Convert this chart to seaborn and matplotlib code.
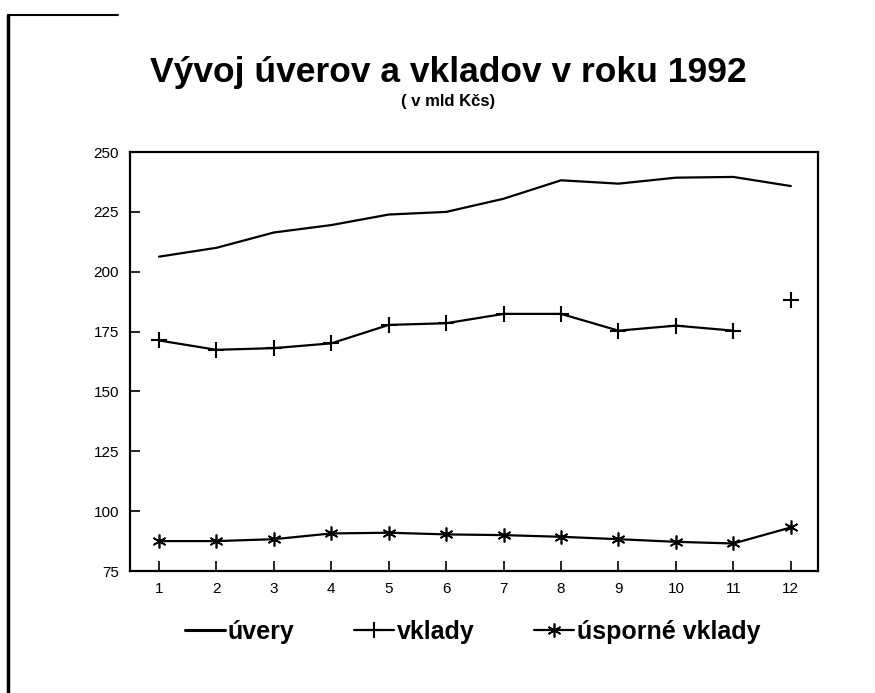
import matplotlib
matplotlib.use("Agg")
import matplotlib.pyplot as plt
import seaborn as sns
import pandas as pd
from matplotlib.lines import Line2D

months = [1, 2, 3, 4, 5, 6, 7, 8, 9, 10, 11, 12]
tick_labels = ["1", "2", "3", "4", "5", "6", "7", "8", "9", "10", "11", "12"]
uvery = [206.3, 210.0, 216.4, 219.5, 223.9, 225.0, 230.5, 238.2, 236.8, 239.3, 239.6, 235.8]
vklady = [171.3, 167.4, 168.1, 170.1, 177.8, 178.5, 182.4, 182.4, 175.4, 177.5, 175.4, 188.2]
usporne = [87.5, 87.5, 88.3, 90.7, 91.0, 90.3, 90.0, 89.3, 88.3, 87.2, 86.5, 93.2]
y_ticks = [75, 100, 125, 150, 175, 200, 225, 250]

sns.set_theme(style="white")
plt.rcParams['font.family'] = ['Liberation Sans', 'DejaVu Sans']
plt.rcParams['text.color'] = 'black'

fig = plt.figure(figsize=(8.75, 6.93), dpi=100)
ax = fig.add_axes([0.1486, 0.176, 0.786, 0.6046])

df = pd.DataFrame({"m": months, "uvery": uvery, "vklady": vklady, "usporne": usporne})
star = (6, 2, 0)

sns.lineplot(data=df, x="m", y="uvery", ax=ax, color="black", lw=1.6)
sns.lineplot(data=df.iloc[:11], x="m", y="vklady", ax=ax, color="black", lw=1.6,
             marker="+", markersize=12, markeredgewidth=1.5, markeredgecolor="black")
sns.scatterplot(data=df.iloc[11:], x="m", y="vklady", ax=ax, color="black",
                marker="+", s=130, linewidth=1.5)
sns.lineplot(data=df, x="m", y="usporne", ax=ax, color="black", lw=1.6,
             marker=star, markersize=10, markeredgewidth=1.2, markeredgecolor="black")

ax.set_xlim(0.495, 12.47)
ax.set_ylim(75, 250)
ax.set_xticks(months)
ax.set_xticklabels(tick_labels, fontsize=11)
ax.set_yticks(y_ticks)
ax.set_yticklabels([str(v) for v in y_ticks], fontsize=11)
ax.set_xlabel("")
ax.set_ylabel("")
ax.tick_params(direction="in", length=7, width=1.2, color="black", labelcolor="black",
               bottom=True, left=True, pad=8)
for s in ax.spines.values():
    s.set_color("black")
    s.set_linewidth(1.6)

fig.text(0.512, 0.895, "Vývoj úverov a vkladov v roku 1992", ha="center", va="center",
         fontsize=25.5, fontweight="bold", color="black")
fig.text(0.512, 0.853, "( v mld Kčs)", ha="center", va="center",
         fontsize=12, fontweight="bold", color="black")

handles = [
    Line2D([], [], color="black", lw=2.2),
    Line2D([], [], color="black", lw=1.6, marker="+", markersize=12, markeredgewidth=1.5),
    Line2D([], [], color="black", lw=1.6, marker=star, markersize=10, markeredgewidth=1.2),
]
fig.legend(handles, ["úvery", "vklady", "úsporné vklady"], loc="center",
           bbox_to_anchor=(0.54, 0.088), ncol=3, frameon=False,
           prop={"size": 18, "weight": "bold"}, handlelength=1.6,
           handletextpad=0.1, columnspacing=2.4, labelcolor="black")

# scanned-page border remnants
fig.add_artist(Line2D([0.009, 0.009], [0.0, 0.978], color="black", lw=2.5,
                      transform=fig.transFigure))
fig.add_artist(Line2D([0.009, 0.135], [0.978, 0.978], color="black", lw=1.5,
                      transform=fig.transFigure))

fig.savefig("out.png", dpi=100, facecolor="white")
